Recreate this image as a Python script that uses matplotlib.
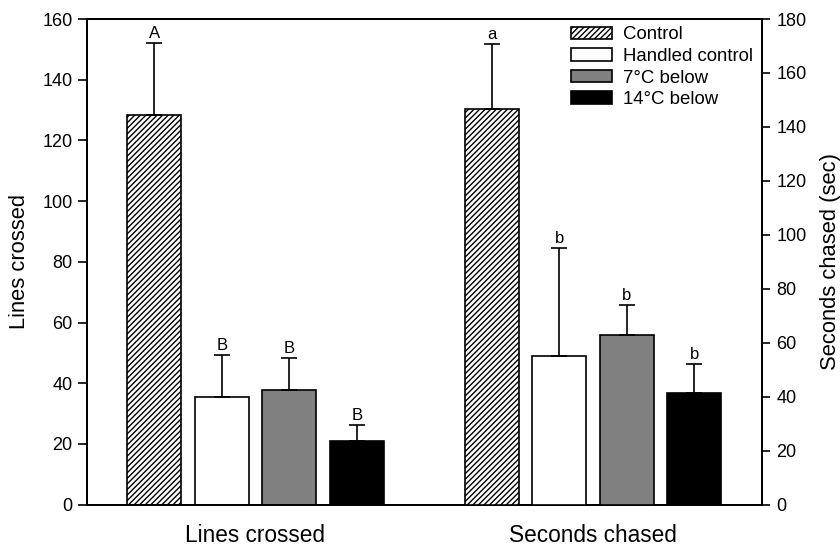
import matplotlib
matplotlib.use("Agg")
import matplotlib.pyplot as plt
import numpy as np

# data
groups = ["Lines crossed", "Seconds chased"]
treatments = ["Control", "Handled control", "7°C below", "14°C below"]
lines_mean = [128.3, 35.5, 37.9, 21.1]
lines_err = [23.7, 13.7, 10.5, 5.0]
lines_sig = ["A", "B", "B", "B"]
chase_mean = [146.7, 55.2, 62.8, 41.4]
chase_err = [24.0, 40.0, 11.2, 10.6]
chase_sig = ["a", "b", "b", "b"]

fills = ["white", "white", "#808080", "black"]
hatches = ["//////", None, None, None]

plt.rcParams["font.family"] = ["Liberation Sans", "DejaVu Sans"]
plt.rcParams["hatch.linewidth"] = 1.0

fig = plt.figure(figsize=(8.4, 5.47), dpi=100)
ax = fig.add_axes([86.7 / 840, 1 - 504.6 / 547, 675 / 840, 485.6 / 547])
ax2 = ax.twinx()

width = 0.16
offsets = np.array([-0.3, -0.1, 0.1, 0.3])


def draw_group(axis, center, means, errs, sig):
    x = center + offsets
    axis.bar(x, means, width, color=fills, edgecolor="black", linewidth=1.2,
             hatch=hatches, yerr=[np.zeros(len(errs)), errs], capsize=5.5,
             error_kw=dict(elinewidth=1.2, capthick=1.2, ecolor="black"),
             zorder=3)
    for xi, m, e, s in zip(x, means, errs, sig):
        axis.annotate(s, (xi, m + e), xytext=(0, 1.5), textcoords="offset points",
                      ha="center", va="bottom", fontsize=12)


draw_group(ax, 0.5, lines_mean, lines_err, lines_sig)
draw_group(ax2, 1.5, chase_mean, chase_err, chase_sig)

ax.set_xlim(0, 2)
ax.set_ylim(0, 160)
ax2.set_ylim(0, 180)
ax.set_yticks(np.arange(0, 161, 20))
ax2.set_yticks(np.arange(0, 181, 20))
ax.set_xticks([0.5, 1.5])
ax.set_xticklabels(groups, fontsize=16.3)
ax.tick_params(axis="x", length=0, pad=14)
ax.tick_params(axis="y", direction="out", length=6.3, width=1.2, labelsize=13, pad=4)
ax2.tick_params(axis="y", direction="out", length=5.5, width=1.2, labelsize=13, pad=5)

ax.set_ylabel("Lines crossed", fontsize=15.8, labelpad=9)
ax2.set_ylabel("Seconds chased (sec)", fontsize=15.8, labelpad=10)

for a in (ax, ax2):
    for sp in a.spines.values():
        sp.set_linewidth(1.3)

handles = [plt.Rectangle((0, 0), 1, 1, facecolor=f, edgecolor="black",
                         linewidth=1.2, hatch=h) for f, h in zip(fills, hatches)]
ax2.legend(handles, treatments, loc="upper left", bbox_to_anchor=(0.717, 0.985),
           frameon=False, fontsize=13.4, handlelength=2.2, handleheight=0.65,
           handletextpad=0.6, labelspacing=0.25, borderpad=0, borderaxespad=0)

fig.savefig("out.png", dpi=100)
